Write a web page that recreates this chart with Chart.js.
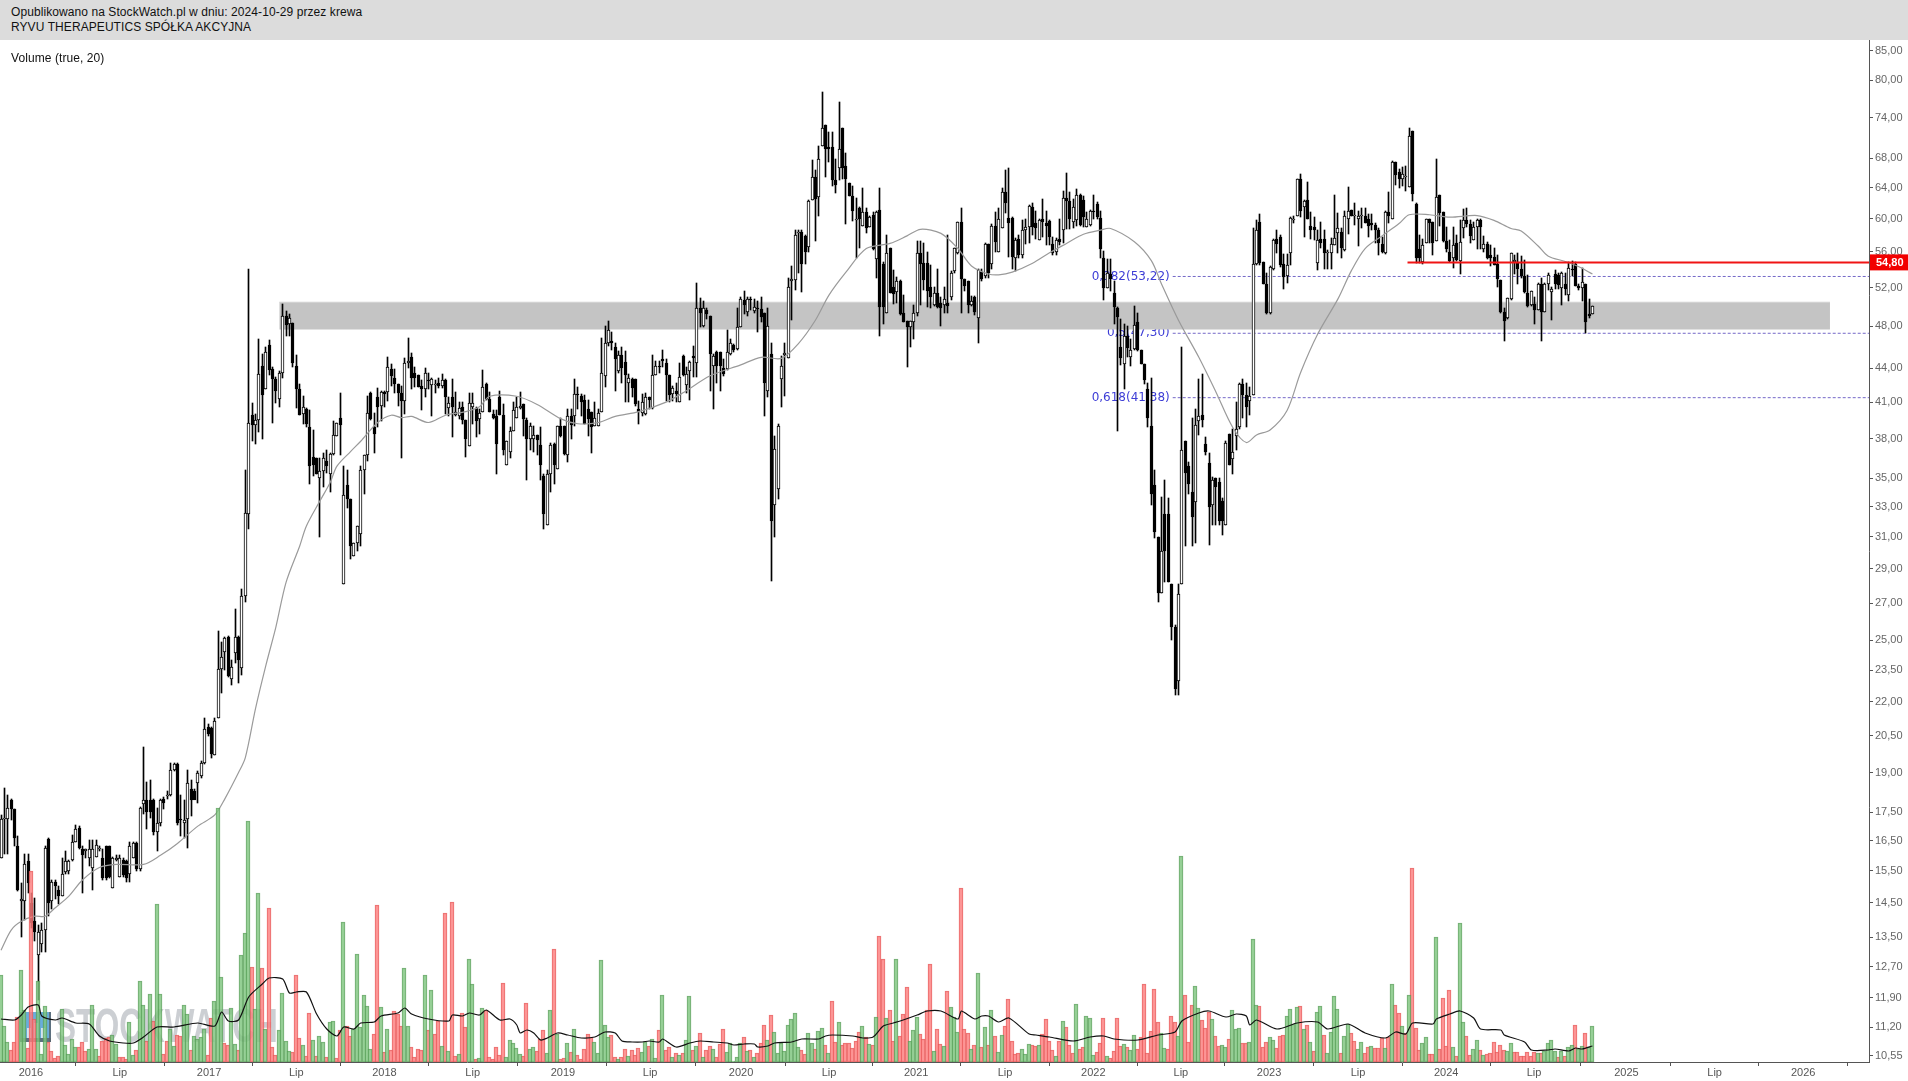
<!DOCTYPE html>
<html lang="pl">
<head>
<meta charset="utf-8">
<title>RYVU THERAPEUTICS</title>
<script src="https://cdn.jsdelivr.net/npm/chart.js@4/dist/chart.umd.min.js"></script>
<style>
  html, body { margin: 0; background: #fff; overflow: hidden; }
  #header { position: absolute; left: 0; top: 0; width: 1908px; height: 40px; background: #dcdcdc;
            font: 12px/14.5px "Liberation Sans", Arial, sans-serif; letter-spacing: 0.08px; color: #111; }
  #header div { padding-left: 11px; }
  #header div:first-child { padding-top: 5px; }
  #volumeLabel { position: absolute; left: 11px; top: 51px; font: 12px "Liberation Sans", Arial, sans-serif; letter-spacing: 0.08px; color: #111; }
  #chart { position: absolute; left: 0; top: 0; display: block; }
</style>
</head>
<body>
<canvas id="chart" width="1908" height="1081"></canvas>
<div id="header">
  <div>Opublikowano na StockWatch.pl w dniu: 2024-10-29 przez krewa</div>
  <div>RYVU THERAPEUTICS SPÓŁKA AKCYJNA</div>
</div>
<div id="volumeLabel">Volume (true, 20)</div>
<script>
// weekly candles, ten weeks per line
const bodyTops = [
  17.25,17.3,17.65,17.95,17.6,16.3,14.6,15.7,15.8,14.5,
  13.95,13.65,13.7,16.25,16.55,15.15,15.15,14.9,15.4,15.8,
  15.8,16.45,16.9,16.95,16.2,16.2,16.2,16.2,16.35,16.25,
  15.9,16.3,16.3,15.9,15.9,15.9,15.85,15.8,16.3,16.4,
  16.4,17.65,17.95,17.95,17.95,17.95,17.1,17.95,18,18.15,
  19.1,19.35,19.35,17.25,17.2,18.6,18.35,18.3,19,19.4,
  20.8,20.9,20.85,21.15,23.55,24.15,25.1,25.2,23.65,25.2,
  25.2,27.4,32.6,39.3,39.9,39.5,43.5,44.2,45.5,46.2,
  43.9,43,43.6,49,49,48.8,48.3,44.2,42.1,40.6,
  40.4,38.9,36.6,36.5,35.5,36.5,36.3,36.8,38.3,39.3,
  39.7,33.8,34.5,33.5,30.6,31.7,35.6,36.7,40.1,41.8,
  38.9,41.4,41.9,41.9,44.1,43.9,43.1,42.6,41.8,44.5,
  44.7,45,43.6,43.4,42.4,43.6,42.9,43,42.6,42.7,
  42.9,42.9,40.9,41.4,40.2,40.5,40.6,39.5,40.9,40.9,
  40.5,40.1,42.3,42.6,41.3,40,39.8,41.4,39.9,37.8,
  38.6,40.3,40.6,40.7,40.8,39.5,39,38.3,38.3,37.5,
  35.2,35.3,37.5,37.6,39,39,39,39.8,39.8,41.7,
  41.7,41.5,41.2,40.4,40.2,39.7,40.1,43.6,46.4,47.6,
  46.5,46,45.2,45.2,44.6,43.1,43,43,40.4,41,
  41.4,41.4,43.4,44.2,44.2,44.8,44.5,43.4,42.2,42,
  43.2,45.1,43.5,44.6,45.1,49.8,49.9,49.8,49.6,49,
  45.1,45.5,45.5,44,45.5,46.4,46.2,47.9,50.8,50.7,
  50.8,50.8,50,49.8,49.7,49.3,48,45.3,37.2,39,
  44.2,45.4,52.1,52.9,58,58.4,58.4,57.9,62.2,65.4,
  65.4,67.9,72.4,72.9,69.6,69.6,65,69.4,72.4,67,
  64.6,62.9,60,61.4,60.8,60.9,60.2,60.5,60.9,61.1,
  54.6,55.9,56.5,52.1,52.7,52.7,49.3,48.5,48.5,49.3,
  55.9,55.9,54.7,54.7,52.1,51.4,51.4,50.4,50.8,50.4,
  53.6,56.5,59.6,59.6,52.9,52.7,50.6,51,53.9,53.7,
  56.9,56.9,59.1,59.1,60,63.4,63.4,60.1,60.1,57.4,
  57.5,58.6,59,61.6,61.5,59.5,59.9,60,59.5,59.7,
  56.9,57.4,57.5,62.6,62.6,62.3,61.5,63,63,62.4,
  60,61,61,61.9,60.1,55.3,53.6,53.5,51.4,49.9,
  46,47,47,45.7,48.1,48.4,45.7,44.4,42.1,39,
  34.5,31,30.1,32.5,32.5,28.1,25.7,27.5,37.1,37.8,
  35.9,34,39.1,39.8,39.9,37.6,36.1,34.9,35,34.7,
  33.4,37.7,38.4,37,38.8,42.6,42.6,41.6,41.5,54.6,
  58.6,59.6,54.9,52.4,54.3,57.4,57.5,57.8,54.6,54.5,
  60.1,60,65.2,65.2,62.3,62.4,59.1,59,57.4,57.5,
  57.5,56,56.9,57.7,58.8,58.4,60.4,61,61.1,60.5,
  60.4,60.5,60.4,60,59.5,59.2,58.6,56.9,60.9,60.9,
  67.5,67.5,66.1,65.9,65.5,71.2,72,61.9,56.3,56.8,
  60,60,59.6,62.8,63,60.9,57.3,56,56.8,57,
  57.2,59.9,59.9,59.4,59,59.9,59.9,56.9,56.9,55.7,
  55.4,54.6,52.8,49.4,50.9,55.9,55.1,54.9,54,53.3,
  51.4,51.6,50.3,52.4,52.4,52.4,53.4,51.9,53.5,53.4,
  53.6,52.4,54.2,54.1,54.6,52.2,52.6,52.4,49.2,50.1
];
const bodyBottoms = [
  15.9,17.25,17.25,17.6,16.6,14.9,14.55,14.55,15.1,13.9,
  13.65,13,13.3,13.7,14.5,14.55,15,14.7,14.7,15.45,
  15.5,15.85,16.45,16.25,16,16.15,15.9,15.6,15.95,16.2,
  15.25,15.25,15.3,14.95,15.85,15.3,15.35,15.25,15.4,15.9,
  15.55,15.55,17.8,17.5,17.5,16.8,16.8,17.1,17.85,18.1,
  18.15,19.1,17.1,17.2,17.1,17.25,17.95,17.95,18.6,18.85,
  19.4,20.6,19.75,19.7,21.3,23.55,24.4,23.2,23.05,24.35,
  24,23.6,27.4,32.5,39.1,39.1,39.5,41.6,42.1,43.8,
  43,42,41.3,43.6,48.1,48.2,44.5,42.1,39.9,40,
  39.2,35.9,36,35.3,35,35.5,35.9,35.3,36.8,38.2,
  39.1,28.1,33.5,30.4,29.8,30.6,31.2,35.6,36.7,39.6,
  38.4,40.6,40.7,41.7,41.9,43.3,42.6,41.8,41.1,41.1,
  44.5,43.1,43.1,42.3,42.1,42.1,42.8,42.5,42.5,42.4,
  42.4,41.4,40.5,40.6,39.9,39.8,39.5,38,37.4,40.6,
  39.4,39.6,40.2,41.3,40.2,39.7,37.6,39.9,37.1,36,
  37,38.6,39.7,40.5,39.6,38,38,38,37.9,36,
  32.5,31.8,35.3,36,35.7,38.2,36.8,36.7,39.1,39.8,
  41.6,41,39.2,39.6,38.9,39,39,40.2,43.3,46.4,
  46.4,44.8,43.7,44,43.4,42.7,42.2,40.8,40.2,40.1,
  40,41.2,40.5,43.4,44.1,44.7,43.4,41.6,41.7,41.7,
  41,43.4,42.5,43.7,44.9,44.5,49.3,48,49.2,45.3,
  44.2,44.2,44.2,43.5,43.9,45.3,45.7,45.8,47.9,50.2,
  49.4,50.7,49.5,49.7,48.9,42.7,42,32,33.1,34.2,
  43,45.2,44.9,52.7,52.8,58.2,54.6,56,56.6,62.4,
  62.5,62.8,69.8,69.4,69.4,65,64.3,66.6,66.6,65.2,
  62.9,61,59.9,60,59.1,58.8,59,56.4,55.2,50,
  50,49.3,51.4,51.3,51.5,49.2,48.4,47.9,47.9,48.4,
  49.3,54.6,52.8,51.6,51,50.2,50,49.9,50.2,50.1,
  51,53.8,55.9,52.9,52.2,50.2,50.2,49.4,48.8,52.9,
  53.3,53.6,54.6,57.2,56,58.9,62,59.5,55.4,55.3,
  55.7,55.7,58.6,59,59,58.9,57.4,59.6,59.1,57.8,
  55.9,56,57.2,58.6,62.2,60,59.6,59.9,59.2,60.2,
  59,59.2,60.8,60.2,56.3,52,52,52.9,50,48.9,
  44.9,44.4,45.9,45,45.8,45.7,44.4,42.9,39.7,33.9,
  31.3,27.6,27.6,30.1,28.2,25.7,22.6,23,28.1,35.4,
  34.6,32.3,33.3,39.4,39.5,37,33,33.1,34.4,32,
  32,31.8,36,36.4,38.2,38.9,41.6,40.6,41.1,41.6,
  54.6,54.7,52.4,49.3,49.3,54.1,56.9,54.5,53.2,53.3,
  55.9,59.9,60.4,61,61.5,60,58.6,58.6,54.7,57.1,
  55.9,55.9,55.9,56.8,58.2,56.5,56.2,60,60.4,60.4,
  60,60.4,59.5,59.1,59.2,58.6,57,56,55.9,60.4,
  60,65.7,65.2,65.1,65.4,64.1,63.2,55.3,55.3,54.9,
  57,59.5,57,57.3,60.7,57.3,56.3,55,55.3,55.1,
  55,58.8,59.4,57.9,57.4,59,59,56.3,55.3,55.3,
  54.5,52.9,49.4,48.5,48.8,50.8,54.9,54,53.3,51.5,
  50.1,50.2,49.6,49.6,49.4,49.4,52.4,51.5,52.4,52.3,
  52,51.9,51.2,54,52.2,52,52,48.4,49,49.2
];
const wickHighs = [
  17.4,18.4,18.15,18,17.6,16.65,15.1,16.05,16.05,14.8,
  14.65,13.85,13.9,16.3,16.6,15.2,15.2,15,15.9,16.15,
  15.85,16.7,17.05,17,16.3,16.2,16.5,16.5,16.5,16.3,
  16.2,16.3,16.3,15.95,16,16,15.9,15.85,16.45,16.45,
  16.45,17.7,20.05,18.65,18.7,18,17.65,18,18.05,18.3,
  19.4,19.4,19.4,18.15,17.95,19.1,18.7,18.35,19.05,19.45,
  21.3,21,20.9,21.3,25.5,24.9,25.2,25.25,24,26.7,
  25.25,27.8,35.6,54,40.9,40,46.7,45.3,46,46.6,
  44.1,43.2,43.7,50.3,49.5,49.2,48.3,45.2,42.6,41.5,
  40.5,40.3,38.7,36.5,36.5,36.9,37.1,36.9,39.4,39.3,
  41.8,35.9,35.6,33.5,30.6,31.7,35.9,36.7,41.5,41.9,
  40.1,42.2,42,42,45,44.4,43.9,42.6,42.4,44.9,
  46.8,45.4,44.1,43.4,42.9,44,43.6,43.1,42.9,43.1,
  43.5,43,41.4,43,41.9,41,41,39.5,41.8,41.8,
  40.6,40.4,43.8,42.7,41.9,40.3,40.3,42,40.8,37.8,
  38.9,41,41.4,41.9,40.8,39.7,39.3,39,38.3,38.9,
  35.3,35.6,37.7,37.7,39,39.7,39,40.4,40.4,43,
  42.3,41.7,41.6,41.2,40.2,41,40.4,46.8,48,48.5,
  47.4,46.4,45.6,46,45.6,43.5,43.1,43,41.1,41.7,
  41.8,41.4,45.2,44.7,44.7,45.7,44.8,43.4,42.4,42.7,
  44.5,45.2,44.1,44.7,46.1,52.5,50.9,50.6,49.9,49,
  45.3,45.6,45.5,44.8,47.6,46.7,46.3,49.8,51,51.6,
  51,51,50.8,50.6,51,49.3,49.9,46.4,38.2,39.2,
  45.1,46.4,53,54.4,58.6,58.6,58.6,58,62.4,67.8,
  66.4,69.8,78,72.9,71.9,71.9,67.9,76.5,72.4,68.8,
  64.6,64.2,62.6,61.5,64,61.4,60.3,60.9,61,64,
  54.8,58,56.5,53.9,53.2,52.8,51.2,48.5,48.5,50.2,
  57.3,57.3,57,56,54.5,52.1,54,51,52.1,58,
  53.8,56.5,59.6,61.3,52.9,52.7,51.1,51.1,54,54.1,
  57.1,56.9,59.3,60.9,61.4,64,66.4,66.7,60.2,57.7,
  58,59.8,60,61.7,62,61,60,62.5,61,59.8,
  57.8,57.6,60,63.5,66,63.4,62.5,63.8,63.2,62.9,
  60.8,61.1,63,62.1,61,56.1,55.2,55.2,52.7,50,
  48.7,48.2,48,46.7,50.1,49.3,45.7,44.4,42.7,43.1,
  35.6,31,33.7,34.9,33.6,28.1,25.8,28.1,46,37.8,
  36.2,39.7,40.4,43,43.5,38.1,36.9,35.1,35,35,
  33.6,37.8,38.4,38.8,41,42.7,43,42.7,42.3,58.9,
  59.8,60.6,54.9,53.6,54.4,57.5,58.6,58,55.8,55.8,
  60.2,60.3,65.2,65.8,62.4,64.8,60.9,60.2,58.6,59.6,
  58.6,56.2,57.7,63,60.7,58.8,61,64.1,61.1,62,
  61,61.3,61.4,60.6,60.6,59.5,58.8,57.8,61,63.4,
  67.7,67.5,66.5,66.8,66.9,72.4,72,62,58,57.5,
  60,60,59.6,67.9,63,60.9,59,57.4,59,58,
  59.9,61.2,61.3,59.9,59.6,60,60,57.9,57.2,56.8,
  56.5,55.7,52.8,49.9,50.9,55.9,55.7,55.9,55.5,55.1,
  53.4,51.6,51,52.5,53,52.5,53.6,52.1,53.9,53.6,
  53.7,53.6,54.9,55,54.9,52.4,54.2,52.4,50.8,50.1
];
const wickLows = [
  15.9,16.05,16.05,17.2,16.3,14.85,13.5,14,14.8,13.75,
  13.4,11.85,13.1,13.1,14.1,14.3,14.6,14.45,14.7,15.4,
  15.4,15.8,16.45,16.2,14.8,15.9,15.65,14.9,15.95,16.15,
  15.2,15.2,15.25,14.95,15.8,15.3,15.3,15.15,15.15,15.9,
  15.5,15.5,17.45,16.9,17.3,16.7,16.15,17,17.6,18,
  18.1,19.05,17.05,16.65,16.6,16.25,17.35,18,17.85,18.8,
  19.35,20.5,19.6,19.7,21.3,22.4,23.5,23.15,22.8,23.85,
  22.9,23.25,27.1,31.5,37.8,37.6,38.5,38,42.1,43.4,
  39.3,40.9,40.6,43.1,47,47,44.1,40.5,39.9,39.2,
  38.9,34.6,35.2,35.3,31,34.4,35.4,34,36.7,38.2,
  36.7,28.1,32.9,29.6,29.8,30.1,30.4,33.9,36.3,39.5,
  36.9,38.9,39.4,40.6,41.1,42.4,41.8,40.7,36.5,40,
  44,42.1,42.3,42.3,40.3,41.4,42.1,39.8,41.8,42.2,
  42.2,40,39.8,38.1,39.8,39.6,39.2,36.6,37.4,39.2,
  38.1,38.4,40.2,41.2,40.2,39.6,35.3,39.9,36.7,36,
  36.5,38.6,39.7,40.4,38.2,34.9,37.1,37,36.7,34.9,
  31.5,31.8,34,34.6,35.7,38.1,36.7,36.2,38,39,
  40.4,39.8,39.2,38.2,36.9,39,39,40.2,42.3,46.1,
  45.7,42,43.6,42.7,41,41,41.4,40.7,39.2,39.8,
  39.9,40.4,40.4,43.4,43.6,44.1,41.1,41,41.1,41,
  41,43.3,41.8,41.2,43.2,43.2,47.9,47.9,48.7,42,
  40.4,42.7,42,43.3,43.8,45.2,45.5,45.7,47.9,49.2,
  49,49.6,49.3,47.4,48.4,39.8,41.4,28.3,31,33.5,
  40.6,41.5,44.9,48.6,51.7,53.6,51.5,54.6,56,62.4,
  57.3,60.3,69.8,65.4,67.5,64.2,63.3,65,65.2,59.3,
  62.9,59.7,55.3,56.5,59.1,58.3,59,56.2,53.1,47,
  48.2,49.3,51.4,50.3,50.4,49.1,48.4,44.1,46,46.7,
  49,50.2,51.8,50,49.9,50.1,49.9,48,49.3,49.3,
  50.7,53.6,55.8,49.3,51.6,49.3,50.1,49.1,46.4,52.7,
  53,53,54,56,56,58.9,60.7,55.4,54.1,53.8,
  55.3,55.3,56.9,57,58,57.5,57.4,57.8,56.8,56.8,
  55.6,55.6,56.8,57,58.7,58.7,58.9,59.1,59.1,59,
  59,59.1,60,60,55.3,50.7,52,51.6,48.2,38.6,
  44.3,42.1,45,44.2,45.7,45.6,44.4,42.6,38.9,33.1,
  30.9,27.1,27.6,28.2,28.2,25,22.3,22.3,28.1,30.4,
  33.9,30.4,30.6,38.3,38.9,36.7,30.5,31.8,31.8,31.8,
  31.1,31.8,36,35.3,37.1,38.8,39.7,38.9,39.9,41.6,
  54.5,54.5,52.4,49.2,49.2,53.9,55.9,54.3,51.9,52.5,
  54.5,59.5,60.3,60.2,57.8,60,57.5,57.4,53.9,56.5,
  54.1,54.1,54,56.8,55.9,55.3,56.1,58.1,60.4,59.2,
  56.7,58.9,59.5,57.8,58.6,57,55.6,55.9,55.8,59.5,
  60,64.3,64,64.2,63.6,64.1,62.3,54.7,54.7,54.6,
  57,57,55.7,57.3,59.1,57.2,56,54.8,54.2,55,
  53.5,57.7,59,57.1,57.4,56.3,56.3,56,55.2,54.4,
  54.5,52.1,49.3,46.5,48.7,50.7,53.5,52.4,53,51.4,
  50,50.1,48.2,49.6,46.5,49.4,51.7,48.6,51.9,51.9,
  50.2,51.2,50.6,53.3,52.2,51.7,50.6,47.3,48.8,49.2
];
// U = white candle, D = black candle
const candleDirs = [
  'UUUDDDUUDD','DUUUDUDDUU','UUUDDUUUUU','DDDUUUDDUU','DUUDDDUUDU','UUDDUUDDUU','UDDUUUUDUU','DUUUDUUDUD',
  'DDUUDUDDDU','DDDDUUDUUU','DUDDUUUUUD','DDUDUDDDDU','UDDDDUDUUD','UDUDUUDDUU','DUUDDDDDDU','UUUUDDUUDD',
  'DUUDUDDUDU','DDDDDUUUUU','DDUDDUDDDU','UDUUDDDDUD','UDUUDUDUDD','UDDDUUDUUD','UDUDDDUDUU','UUUUUUDDUU',
  'DUUDDDDUDD','DDUDUDUDUD','DUDDUDDDUU','UDDDDUDDUD','UUUDDDUDUD','UDUDUUDDDU','DUUUDDUDDD','DUDUDDUUDD',
  'UUDDDDUDDD','DUDUUDDDDD','DDUDDDDUUD','DDUUDDDUDD','DUDUUUDDUU','UDDDUUDDDU','UUUDUDDDUD','DUUUUDUUDU',
  'UUDDDDDDUD','UDDUUUDDDU','UDDUDDDDUD','UUDDUUDUDD','DDDDUUUDDD','DUDUDUUUDD','UDUDDDUDDU'
].join('');

// weekly volume in thousands of shares (the axis is hidden, so the unit is a guess)
const volumes = [
  87,36,20,12,20,45,92,52,14,191,
  43,81,8,56,20,11,4,6,53,17,
  8,23,15,15,20,11,13,57,13,6,
  21,24,25,27,18,5,5,3,40,7,
  12,81,57,21,68,41,158,68,8,21,
  33,16,27,26,57,48,12,26,23,25,
  33,7,44,61,254,85,19,17,54,18,
  12,107,129,241,95,53,169,94,33,154,
  15,7,32,69,21,11,10,87,24,17,
  6,49,22,6,26,20,5,40,41,4,
  32,140,36,26,33,108,35,67,56,13,
  28,157,55,10,33,12,51,48,36,94,
  36,15,5,13,12,87,32,72,28,41,
  16,149,11,160,6,8,49,35,103,78,
  3,4,54,52,5,3,15,7,79,5,
  22,19,14,8,6,59,13,15,11,23,
  32,9,52,113,28,3,4,19,10,33,
  7,3,13,28,25,20,9,102,37,25,
  27,5,3,5,13,6,12,7,14,10,
  20,16,23,4,32,67,12,15,5,9,
  7,9,22,66,12,16,29,5,12,16,
  13,5,18,33,10,19,1,5,19,25,
  11,12,5,9,19,37,22,47,30,9,
  19,11,37,43,49,15,12,8,29,19,
  13,31,34,17,9,61,20,40,17,19,
  19,14,21,30,36,25,18,17,45,126,
  103,44,52,21,103,26,48,75,21,32,
  45,28,23,52,98,11,33,18,16,71,
  55,45,30,174,33,29,13,17,89,15,
  35,17,52,26,10,27,36,63,21,8,
  9,13,8,18,17,16,17,28,43,21,
  12,6,21,41,35,17,9,58,13,15,
  46,44,7,10,19,44,6,4,11,44,
  16,18,15,12,27,13,25,78,9,31,
  73,40,29,14,13,46,40,26,206,67,
  20,57,76,54,42,34,50,43,26,16,
  17,15,23,52,33,34,19,19,20,123,
  57,56,15,20,25,22,14,26,27,46,
  53,38,55,56,33,37,20,11,50,56,
  27,9,30,66,53,9,26,38,29,21,
  13,20,9,15,16,14,14,24,14,25,
  78,57,49,36,29,67,194,34,12,19,
  25,8,8,125,13,64,16,72,15,6,
  139,40,26,7,13,22,12,7,8,9,
  20,10,17,12,11,19,10,10,6,6,
  10,6,10,9,9,11,19,22,11,5,
  11,6,15,17,37,13,16,29,15,36
];
// G = green bar, R = red bar
const volumeDirs = [
  'GGGRRRGGRR','RGGGRRRRGG','GGGRRRGGGR','RRRGGRRRGG','RGGRGRGGRR','GGRRGGRGGG','GRRGGGRRGG','RGGGRGGRGR',
  'RRGGGGRRRG','RRGRGGRGGR','RGRRGGGGGG','RRGRGRRRRG','GRRRRGRGRR','GRGRRGRRGG','RGGRRRRRRG','GGGGRRGGRR',
  'RGGRGRRGRG','RRRRRGGGGG','RRGRRGRRRG','GRGGRGRRGR','GRGGRGRGRR','GRRRGGGGGR','GRGRRRGRGG','GGGGGGRRGG',
  'RGGRGRRGRR','RRRRGRGRGR','RGRRGRRRGG','GRRRRGRRGR','GGGRRRGRGR','GRGRGGRRRR','RGGGRRGRRR','RGRGRRRGRR',
  'GGGRRRGRRR','RGRGGRRRRR','RRGGRRRGGR','RRGGRRRGRR','GGRGGGRRGG','GRRRGGRRRG','GGGRGRGRGG','RGGGGRGGRR',
  'GGRRGRRRGR','GRRGRGRRRG','GRRGRRRRGR','GGRRGGRGRR','RRRRGGRRRR','RRRGRGGGGR','GRGGRGGRGG'
].join('');

// moving averages, read at the weeks where the curve could be followed
const priceMaWeeks = [0,3,6,10,13,16,20,24,29,34,42,47,52,58,63,66,70,72,75,78,81,84,88,90,94,97,99,103,106,111,115,118,121,126,131,137,141,144,152,158,165,170,176,181,188,196,201,209,218,224,230,235,240,244,249,255,262,267,271,277,282,286,291,294,298,304,309,314,319,324,327,334,339,342,347,353,358,363,367,370,374,379,383,388,394,398,402,407,412,415,421,427,435,440,445,448,453,456,461,465,469];
const priceMaValues = [13.14,13.7,13.95,14.1,14.1,14.35,14.7,15.2,15.6,15.7,15.7,16,16.4,17,17.4,18,19,19.6,21.7,23.7,25.7,28.2,30.4,31.7,33.4,34.7,35.9,37,37.8,39.3,39.9,39.7,39.8,39.3,39.9,40.2,40.6,41.5,41.5,40.8,39.6,39.2,39.3,39.8,40.2,41,41.8,43.3,44.3,45,44.9,46.3,48.6,51.2,53.7,56.4,57,57.9,58.7,58.2,56.4,54.4,53.5,53.4,53.7,54.7,55.9,57,58.1,58.6,58.8,57.2,55,52.4,48.6,45,41.9,38.9,37.7,38.3,38.7,40.3,43.6,47.2,50.8,53.9,56.4,57.9,59.4,60.5,60.5,60.2,60.4,59.8,58.8,58.5,56.7,55.5,54.9,54.3,53.5];
const volumeMaWeeks = [0,4,6,8,11,12,16,18,22,26,29,32,36,39,42,46,51,58,63,65,67,70,73,77,79,83,85,87,90,93,96,99,101,104,106,110,112,117,119,121,126,132,133,136,138,141,143,147,150,152,153,155,157,159,161,164,167,171,175,178,181,183,186,189,191,194,195,199,203,206,210,214,216,219,222,223,226,228,233,236,241,243,245,251,254,257,260,263,265,270,273,277,282,283,285,287,289,291,294,297,303,305,309,316,321,325,328,335,341,346,348,353,356,361,364,367,368,370,376,382,388,391,397,402,408,411,414,416,422,423,427,430,434,436,442,443,449,451,456,458,462,464,466,469];
const volumeMaValues = [43,42,47,55,57,46,42,44,39,38,26,21,19,19,25,35,35,39,36,50,41,42,65,78,84,83,69,70,70,48,33,26,35,33,39,40,46,49,54,48,43,41,47,46,49,47,52,42,43,37,29,32,29,22,24,29,27,24,25,30,29,21,20,20,21,20,23,15,19,21,20,19,17,18,18,15,16,19,20,23,23,26,27,26,24,25,36,39,41,47,51,51,43,51,47,43,46,46,40,44,28,27,25,21,25,26,23,22,27,30,41,49,51,45,48,46,37,42,33,39,40,33,38,29,24,30,28,39,38,43,48,51,44,33,32,27,20,12,12,13,11,14,13,16];

// y axis (log scale) and x axis
const priceTicks = [85,80,74,68,64,60,56,52,48,44,41,38,35,33,31,29,27,25,23.5,22,20.5,19,17.5,16.5,15.5,14.5,13.5,12.7,11.9,11.2,10.55];
const axisWeeks = [8.8,35,61.3,87,113,139,165.6,191.3,218.1,244,269.7,295.9,321.9,347.7,373.7,399.9,425.9,451.8,479,505,531.1];
const axisLabels = ['2016','Lip','2017','Lip','2018','Lip','2019','Lip','2020','Lip','2021','Lip','2022','Lip','2023','Lip','2024','Lip','2025','Lip','2026'];

// analyst drawings
const bandHigh = 50.45, bandLow = 47.68, bandFromWeek = 82, bandToWeek = 539;
const fibValues = [53.22, 47.30, 41.38];
const fibLabels = ['0,382(53,22)', '0,5(47,30)', '0,618(41,38)'];
const fibFromWeek = 345.3;
const resistanceValue = 54.80, resistanceFromWeek = 414.5;

const weekMin = -0.3, weekMax = 550.5;
const points = (xs, ys) => xs.map((x, i) => ({ x: x, y: ys[i] }));
const hline = (from, y) => [{ x: from, y: y }, { x: weekMax, y: y }];

const wickData = wickHighs.map((h, i) => ({ x: i, y: [wickLows[i], h] }));
const bodyData = (dir) => bodyTops.map((t, i) => ({ x: i, y: [bodyBottoms[i], t], dir: candleDirs[i] })).filter(p => p.dir === dir);
const volumeData = (dir) => volumes.map((v, i) => ({ x: i, y: v, dir: volumeDirs[i] })).filter(p => p.dir === dir);

const fibDatasets = fibValues.map((v) => ({
    type: 'line',
    data: hline(fibFromWeek, v),
    borderColor: '#7468c8',
    borderWidth: 1,
    borderDash: [3, 2],
    pointRadius: 0,
    order: 9
}));

// candles and volume bars land on whole pixels, otherwise the white bodies smear grey
const snapBarsPlugin = {
    id: 'snapBars',
    beforeDatasetsDraw(chart) {
        chart.data.datasets.forEach((ds, i) => {
            const meta = chart.getDatasetMeta(i);
            if (meta.type !== 'bar') return;
            const half = ds.snapHalf ? 0.5 : 0;
            meta.data.forEach((el) => {
                el.x = Math.floor(el.x) + half;
                const top = Math.round(el.y);
                const bottom = Math.round(el.base);
                el.y = top;
                el.base = bottom === top ? top + 1 : bottom;
                el.height = el.base - el.y;
            });
        });
    }
};

// texts that sit on the price scale
const drawingsPlugin = {
    id: 'drawings',
    beforeDatasetsDraw(chart) {
        const { ctx, scales } = chart;
        ctx.save();
        // watermark
        ctx.fillStyle = '#4f9fd6';
        ctx.globalAlpha = 0.85;
        ctx.fillRect(20, 1012, 31, 30);
        ctx.fillStyle = '#5a6670';
        ctx.fillRect(20, 1038, 31, 4);
        ctx.fillRect(20, 1012, 2, 30);
        ctx.fillRect(49, 1012, 2, 30);
        ctx.fillStyle = '#e8eef4';
        ctx.fillRect(27, 1028, 4, 10);
        ctx.fillRect(34, 1023, 4, 15);
        ctx.fillRect(41, 1028, 4, 10);
        ctx.globalAlpha = 1;
        ctx.translate(55, 1042);
        ctx.scale(1, 1.5);
        ctx.font = 'bold 31.5px "Liberation Sans", Arial, sans-serif';
        ctx.fillStyle = 'rgba(170,175,182,0.6)';
        ctx.textAlign = 'left';
        ctx.textBaseline = 'alphabetic';
        ctx.fillText('STOCKWATCH', 0, 0);
        ctx.restore();

        ctx.save();
        ctx.font = '12px "DejaVu Sans", sans-serif';
        ctx.fillStyle = '#3d3dd6';
        ctx.textAlign = 'right';
        ctx.textBaseline = 'middle';
        fibValues.forEach((v, i) => {
            ctx.fillText(fibLabels[i], scales.x.getPixelForValue(fibFromWeek) - 3, scales.y.getPixelForValue(v));
        });
        ctx.restore();
    },
    afterDraw(chart) {
        const { ctx, scales } = chart;
        const y = scales.y.getPixelForValue(resistanceValue);
        ctx.save();
        ctx.fillStyle = '#f20000';
        ctx.fillRect(scales.y.left + 1, y - 8, 39, 16);
        ctx.font = 'bold 11px "Liberation Sans", Arial, sans-serif';
        ctx.fillStyle = '#fff';
        ctx.textAlign = 'left';
        ctx.textBaseline = 'middle';
        ctx.fillText(resistanceValue.toFixed(2).replace('.', ','), scales.y.left + 7, y + 0.5);
        ctx.restore();
    }
};

new Chart(document.getElementById('chart'), {
    type: 'bar',
    plugins: [snapBarsPlugin, drawingsPlugin],
    data: {
        datasets: [
            {
                type: 'line',
                data: hline(bandFromWeek, bandHigh).map((p, i) => ({ x: i ? bandToWeek : bandFromWeek, y: p.y })),
                borderColor: '#d2d2d2',
                borderWidth: 1,
                backgroundColor: '#c4c4c4',
                fill: { value: bandLow },
                pointRadius: 0,
                order: 10
            },
            ...fibDatasets,
            {
                data: wickData,
                backgroundColor: '#000',
                barThickness: 1,
                snapHalf: true,
                order: 8
            },
            {
                data: bodyData('U'),
                backgroundColor: '#fff',
                borderColor: '#000',
                borderWidth: 1,
                borderSkipped: false,
                barThickness: 3,
                snapHalf: true,
                order: 7
            },
            {
                data: bodyData('D'),
                backgroundColor: '#000',
                borderColor: '#000',
                borderWidth: 1,
                borderSkipped: false,
                barThickness: 3,
                snapHalf: true,
                order: 7
            },
            {
                type: 'line',
                data: points(priceMaWeeks, priceMaValues),
                borderColor: '#9a9a9a',
                borderWidth: 1.2,
                tension: 0.3,
                pointRadius: 0,
                order: 6
            },
            {
                type: 'line',
                data: hline(resistanceFromWeek, resistanceValue),
                borderColor: '#f01414',
                borderWidth: 2,
                pointRadius: 0,
                order: 5
            },
            {
                data: volumeData('G'),
                yAxisID: 'yVol',
                backgroundColor: 'rgba(130,200,130,0.75)',
                borderColor: 'rgba(85,155,85,0.8)',
                borderWidth: 1,
                borderSkipped: false,
                barThickness: 4,
                order: 4
            },
            {
                data: volumeData('R'),
                yAxisID: 'yVol',
                backgroundColor: 'rgba(255,130,130,0.75)',
                borderColor: 'rgba(230,90,90,0.85)',
                borderWidth: 1,
                borderSkipped: false,
                barThickness: 4,
                order: 4
            },
            {
                type: 'line',
                data: points(volumeMaWeeks, volumeMaValues),
                yAxisID: 'yVol',
                borderColor: '#111',
                borderWidth: 1.2,
                tension: 0.25,
                pointRadius: 0,
                order: 3
            }
        ]
    },
    options: {
        responsive: false,
        animation: false,
        events: [],
        layout: { padding: { top: 40, left: 0, right: 0, bottom: 0 } },
        datasets: { bar: { grouped: false } },
        plugins: {
            legend: { display: false },
            tooltip: { enabled: false }
        },
        scales: {
            x: {
                type: 'linear',
                min: weekMin,
                max: weekMax,
                bounds: 'data',
                offset: false,
                afterFit: (axis) => { axis.height = 19; },
                afterBuildTicks: (axis) => { axis.ticks = axisWeeks.map(w => ({ value: w })); },
                grid: { drawOnChartArea: false, tickLength: 4, tickColor: '#555' },
                border: { color: '#555' },
                ticks: {
                    autoSkip: false,
                    maxRotation: 0,
                    padding: 0,
                    color: '#555',
                    font: { family: '"Liberation Sans", Arial, sans-serif', size: 11 },
                    callback: (value, index) => axisLabels[index]
                }
            },
            y: {
                type: 'logarithmic',
                position: 'right',
                min: 10.417,
                max: 86.96,
                bounds: 'data',
                afterFit: (axis) => { axis.width = 39; },
                afterBuildTicks: (axis) => { axis.ticks = priceTicks.map(v => ({ value: v })); },
                grid: { drawOnChartArea: false, tickLength: 4, tickColor: '#555' },
                border: { color: '#555' },
                ticks: {
                    autoSkip: false,
                    padding: 2,
                    color: '#666',
                    font: { family: '"Liberation Sans", Arial, sans-serif', size: 11 },
                    callback: (value) => value.toFixed(2).replace('.', ',')
                }
            },
            yVol: {
                type: 'linear',
                display: false,
                min: 0,
                max: 1022
            }
        }
    }
});
</script>
</body>
</html>
